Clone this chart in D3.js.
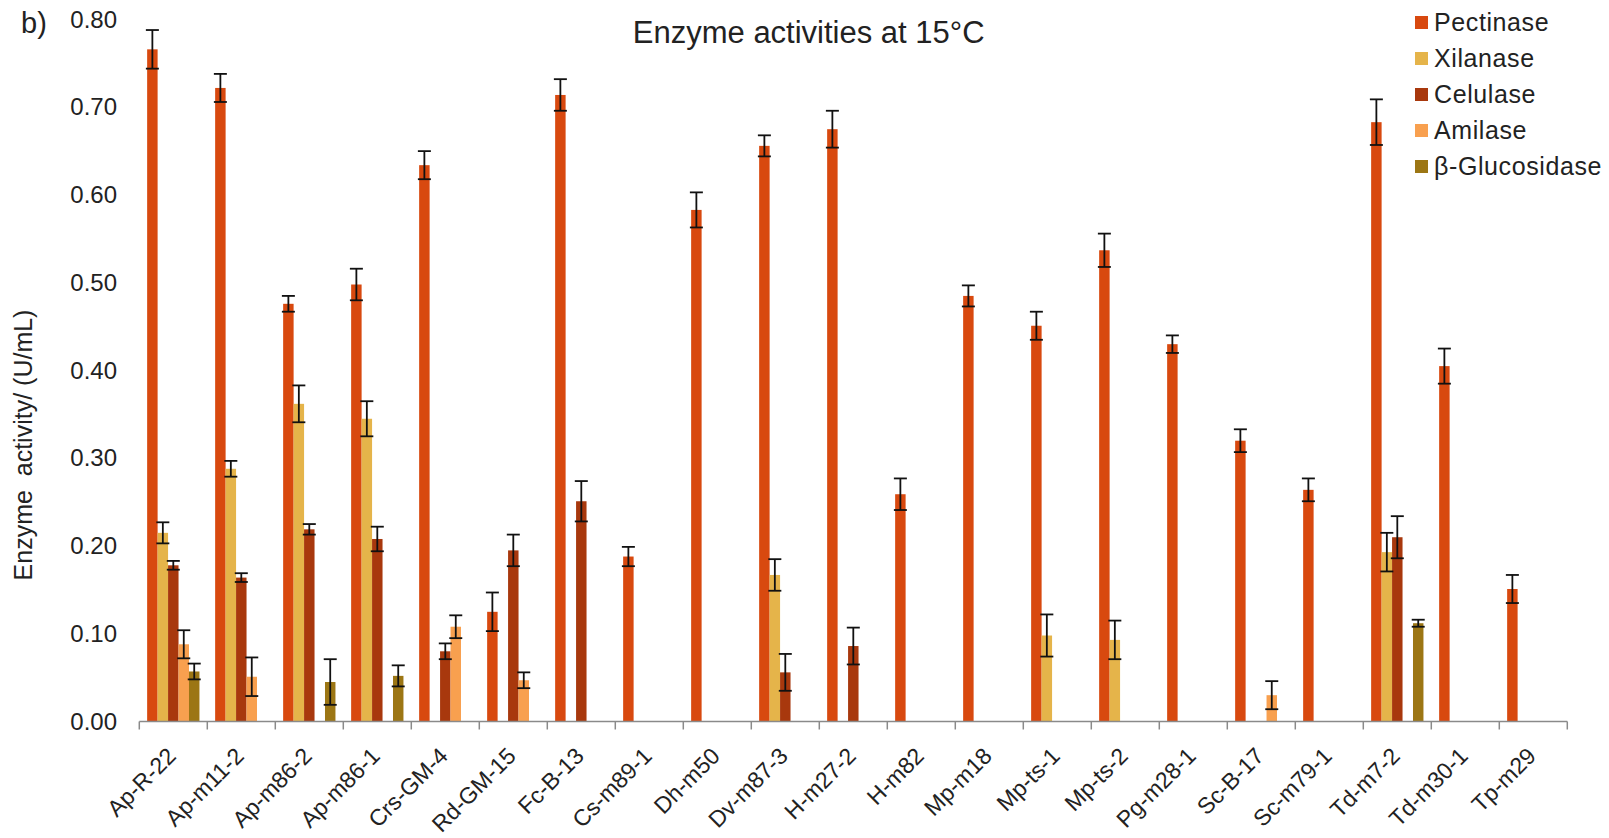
<!DOCTYPE html>
<html>
<head>
<meta charset="utf-8">
<script src="https://cdn.jsdelivr.net/npm/d3@7"></script>
<style>
  html, body { margin: 0; padding: 0; background: #fff; }
  svg { display: block; }
  text { font-family: "Liberation Sans", Arial, sans-serif; fill: #222; }
</style>
</head>
<body>
<svg id="chart" width="1609" height="838"></svg>
<script>
// Fungal isolates
const categories = ["Ap-R-22","Ap-m11-2","Ap-m86-2","Ap-m86-1","Crs-GM-4","Rd-GM-15","Fc-B-13","Cs-m89-1","Dh-m50","Dv-m87-3","H-m27-2","H-m82","Mp-m18","Mp-ts-1","Mp-ts-2","Pg-m28-1","Sc-B-17","Sc-m79-1","Td-m7-2","Td-m30-1","Tp-m29"];

const seriesNames = ["Pectinase","Xilanase","Celulase","Amilase","β-Glucosidase"];

// Mean activities (U/mL); null = no activity detected
const pectinase    = [0.766,0.722,0.476,0.498,0.634,0.125,0.714,0.188,0.583,0.656,0.675,0.259,0.485,0.451,0.537,0.430,0.320,0.264,0.683,0.405,0.151];
const xilanase     = [0.215,0.288,0.362,0.345,null,null,null,null,null,0.167,null,null,null,0.098,0.093,null,null,null,0.193,null,null];
const celulase     = [0.178,0.164,0.219,0.208,0.080,0.195,0.251,null,null,0.056,0.086,null,null,null,null,null,null,null,0.210,null,null];
const amilase      = [0.088,0.051,null,null,0.108,0.047,null,null,null,null,null,null,null,null,null,null,0.030,null,null,null,null];
const glucosidase  = [0.057,null,0.045,0.052,null,null,null,null,null,null,null,null,null,null,null,null,null,null,0.112,null,null];

// Standard deviations
const pectinaseErr   = [0.022,0.016,0.009,0.018,0.016,0.022,0.018,0.011,0.020,0.012,0.021,0.018,0.012,0.016,0.019,0.010,0.013,0.013,0.026,0.020,0.016];
const xilanaseErr    = [0.012,0.009,0.021,0.020,null,null,null,null,null,0.018,null,null,null,0.024,0.022,null,null,null,0.022,null,null];
const celulaseErr    = [0.005,0.005,0.006,0.014,0.009,0.018,0.023,null,null,0.021,0.021,null,null,null,null,null,null,null,0.024,null,null];
const amilaseErr     = [0.016,0.022,null,null,0.013,0.009,null,null,null,null,null,null,null,null,null,null,0.016,null,null,null,null];
const glucosidaseErr = [0.009,null,0.026,0.012,null,null,null,null,null,null,null,null,null,null,null,null,null,null,0.004,null,null];

const yTicks = [0,0.1,0.2,0.3,0.4,0.5,0.6,0.7,0.8];

const seriesValues = [pectinase, xilanase, celulase, amilase, glucosidase];
const seriesErrors = [pectinaseErr, xilanaseErr, celulaseErr, amilaseErr, glucosidaseErr];
const colors = ["#d8490f","#e5b44a","#a8380d","#f8a04f","#9c7614"];

const svg = d3.select("#chart");
svg.append("rect").attr("width",1609).attr("height",838).attr("fill","#fff");

const plot = { left: 139.3, right: 1567.3, top: 19.5, bottom: 721.5 };

const x = d3.scaleBand().domain(categories).range([plot.left, plot.right]).padding(0);
const bw = x.bandwidth() / 6.5;          // 150% gap width
const xs = d3.scaleBand().domain(seriesNames)
  .range([0.75 * bw, x.bandwidth() - 0.75 * bw]).padding(0);
const y = d3.scaleLinear().domain([0, 0.8]).range([plot.bottom, plot.top]);

// Flatten into bar records
const bars = [];
seriesNames.forEach((s, si) => {
  categories.forEach((c, ci) => {
    const v = seriesValues[si][ci];
    if (v != null) bars.push({ s, c, v, e: seriesErrors[si][ci], color: colors[si] });
  });
});

// Bars
svg.append("g").selectAll("rect").data(bars).join("rect")
  .attr("x", d => x(d.c) + xs(d.s))
  .attr("width", xs.bandwidth())
  .attr("y", d => y(d.v))
  .attr("height", d => y(0) - y(d.v))
  .attr("fill", d => d.color);

// Error bars
const capHalf = 6.5;
const eg = svg.append("g").attr("stroke", "#111").attr("stroke-width", 1.8).attr("fill", "none");
bars.filter(d => d.e != null).forEach(d => {
  const cx = x(d.c) + xs(d.s) + xs.bandwidth() / 2;
  const y1 = y(d.v + d.e), y2 = y(d.v - d.e);
  eg.append("line").attr("x1", cx).attr("x2", cx).attr("y1", y1).attr("y2", y2);
  eg.append("line").attr("x1", cx - capHalf).attr("x2", cx + capHalf).attr("y1", y1).attr("y2", y1);
  eg.append("line").attr("x1", cx - capHalf).attr("x2", cx + capHalf).attr("y1", y2).attr("y2", y2);
});

// X axis: baseline with ticks at category boundaries
const xAxisG = svg.append("g");
xAxisG.append("line")
  .attr("x1", plot.left).attr("x2", plot.right)
  .attr("y1", y(0)).attr("y2", y(0))
  .attr("stroke", "#8a8a8a").attr("stroke-width", 1.5);
const boundaries = categories.map(c => x(c)).concat([plot.right]);
xAxisG.selectAll("line.tick").data(boundaries).join("line")
  .attr("class", "tick")
  .attr("x1", d => d).attr("x2", d => d)
  .attr("y1", y(0)).attr("y2", y(0) + 8)
  .attr("stroke", "#8a8a8a").attr("stroke-width", 1.5);

// Category labels, rotated
xAxisG.selectAll("text").data(categories).join("text")
  .attr("transform", d => `translate(${x(d) + x.bandwidth() / 2 + 4},${y(0) + 36}) rotate(-45)`)
  .attr("text-anchor", "end")
  .attr("font-size", 23)
  .text(d => d);

// Y axis labels (no axis line)
const yAxis = d3.axisLeft(y).tickValues(yTicks).tickFormat(d3.format(".2f")).tickSize(0).tickPadding(0);
const yg = svg.append("g").attr("transform", `translate(117,0)`).call(yAxis);
yg.select(".domain").remove();
yg.selectAll("text").attr("font-size", 24).attr("font-family", "'Liberation Sans', Arial, sans-serif").attr("fill", "#222");

// Y axis title
svg.append("text")
  .attr("transform", `translate(32,445) rotate(-90)`)
  .attr("text-anchor", "middle")
  .attr("font-size", 25)
  .attr("xml:space", "preserve")
  .text("Enzyme  activity/ (U/mL)");

// Title
svg.append("text")
  .attr("x", 808.7).attr("y", 43)
  .attr("text-anchor", "middle")
  .attr("font-size", 31)
  .text("Enzyme activities at 15°C");

// Panel letter
svg.append("text")
  .attr("x", 21).attr("y", 33)
  .attr("font-size", 29)
  .text("b)");

// Legend
const lg = svg.append("g").attr("transform", "translate(1415,22.5)");
seriesNames.forEach((s, i) => {
  const row = lg.append("g").attr("transform", `translate(0,${i * 36})`);
  row.append("rect").attr("x", 0).attr("y", -6.5).attr("width", 13).attr("height", 13).attr("fill", colors[i]);
  row.append("text").attr("x", 19).attr("y", 0).attr("dy", "0.35em")
    .attr("font-size", 25).attr("letter-spacing", 0.6).text(s);
});
</script>
</body>
</html>
